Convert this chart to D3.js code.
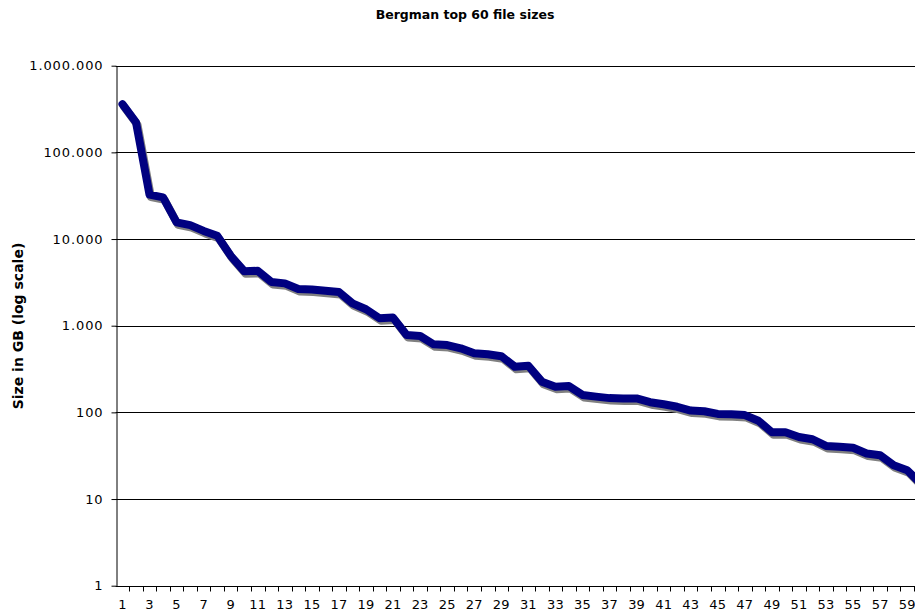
<!DOCTYPE html>
<html><head><meta charset="utf-8">
<script src="https://cdn.jsdelivr.net/npm/d3@7"></script>
<style>body{margin:0;background:#fff}svg{display:block}text{font-family:"DejaVu Sans",Verdana,sans-serif}</style>
</head><body>
<svg id="c" width="915" height="616"></svg>
<script>
const title = "Bergman top 60 file sizes";
const yTitle = "Size in GB (log scale)";
const categories = d3.range(1, 61);
const sizes = [360000, 222000, 32500, 30300, 15600, 14500, 12400, 10900, 6400, 4250,
  4300, 3200, 3080, 2650, 2620, 2530, 2450, 1810, 1550, 1220,
  1240, 780, 760, 610, 598, 548, 480, 468, 445, 336,
  345, 226, 198, 201, 159, 152, 146, 145, 145, 131,
  124, 116, 105, 103, 96, 95, 93, 80, 59, 59,
  52, 49, 41, 40, 39, 33.5, 32, 24.5, 21.5, 15];
const yTicks = [1, 10, 100, 1000, 10000, 100000, 1000000];
const xLabels = categories.filter(d => d % 2 === 1);

const svg = d3.select("#c");
const pLeft = 115.7, pTop = 65.7, pBottom = 585.7, pRight = 927.5;
const x = d3.scaleBand().domain(categories).range([pLeft, pRight]);
const y = d3.scaleLog().domain([1, 1000000]).range([pBottom, pTop]);
const fmt = d => d3.format(",")(d).replace(/,/g, ".");

svg.append("text").attr("x", 465).attr("y", 19).attr("text-anchor", "middle")
  .attr("font-weight", "bold").attr("font-size", 12.5).text(title);

svg.append("text").attr("transform", "translate(22.5,326) rotate(-90)")
  .attr("text-anchor", "middle").attr("font-weight", "bold").attr("font-size", 14).text(yTitle);

// gridlines
svg.append("g").selectAll("line").data(yTicks.slice(1)).join("line")
  .attr("x1", pLeft).attr("x2", pRight).attr("y1", d => Math.round(y(d)) + 0.5).attr("y2", d => Math.round(y(d)) + 0.5)
  .attr("stroke", "#000").attr("stroke-width", 1);

// y axis
const yAxis = svg.append("g").attr("transform", `translate(${Math.round(pLeft) + 0.5},0)`)
  .call(d3.axisLeft(y).tickValues(yTicks).tickFormat(fmt).tickSize(5).tickSizeOuter(0));
yAxis.select(".domain").attr("stroke", "#000");
yAxis.selectAll(".tick line").attr("stroke", "#000");
yAxis.selectAll(".tick text").attr("font-size", 13).attr("fill", "#000").attr("x", -13)
  .attr("font-family", "DejaVu Sans, Verdana, sans-serif").attr("letter-spacing", "0.9px");

// x axis
const xAxis = svg.append("g").attr("transform", `translate(0,${Math.round(pBottom) + 0.5})`);
xAxis.append("line").attr("x1", pLeft).attr("x2", pRight).attr("stroke", "#000");
xAxis.selectAll("line.t").data(categories).join("line").attr("class", "t")
  .attr("x1", d => Math.round(x(d) + x.bandwidth()) + 0.5).attr("x2", d => Math.round(x(d) + x.bandwidth()) + 0.5)
  .attr("y1", 0).attr("y2", 5).attr("stroke", "#000");
xAxis.selectAll("text").data(xLabels).join("text")
  .attr("x", d => x(d) + x.bandwidth() / 2).attr("y", 22).attr("text-anchor", "middle")
  .attr("font-size", 13).attr("letter-spacing", "0.2px").text(d => d);

// line
const line = d3.line().x((d, i) => x(categories[i]) + x.bandwidth() / 2).y(d => y(d));
svg.append("path").datum(sizes).attr("d", line).attr("fill", "none")
  .attr("stroke", "#808080").attr("stroke-width", 8).attr("stroke-linejoin", "round").attr("stroke-linecap", "round")
  .attr("transform", "translate(1.5,2.5)");
svg.append("path").datum(sizes).attr("d", line).attr("fill", "none")
  .attr("stroke", "#000080").attr("stroke-width", 8).attr("stroke-linejoin", "round").attr("stroke-linecap", "round");
</script>
</body></html>
